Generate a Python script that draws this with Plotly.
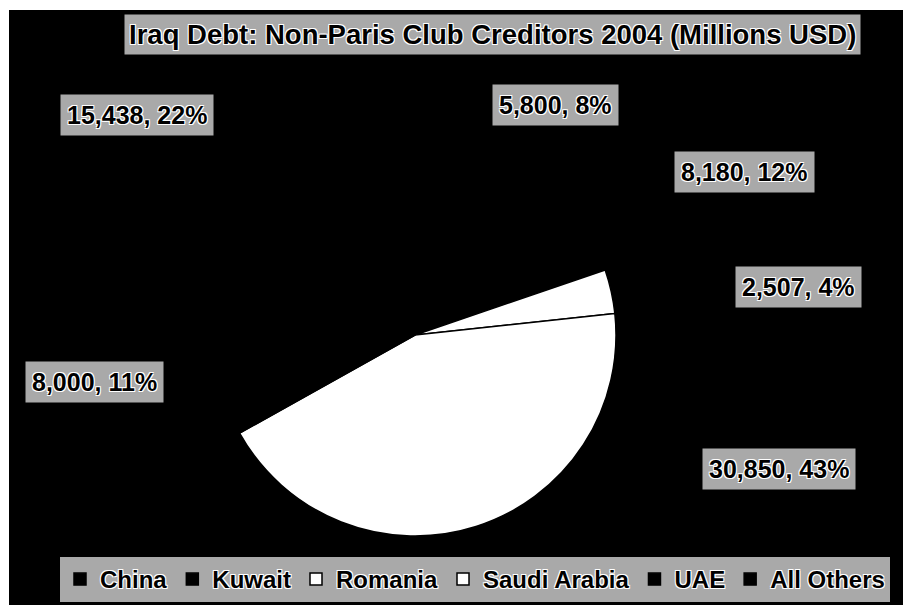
import plotly.graph_objects as go

# ---- data ----
creditors = ["China", "Kuwait", "Romania", "Saudi Arabia", "UAE", "All Others"]
debt_musd = [5800, 8180, 2507, 30850, 8000, 15438]
pct_labels = ["8%", "12%", "4%", "43%", "11%", "22%"]
slice_colors = ["#000000", "#000000", "#ffffff", "#ffffff", "#000000", "#000000"]
title_text = "Iraq Debt: Non-Paris Club Creditors 2004 (Millions USD)"

# page body has an 8px margin, so the figure is drawn 8px in from the top-left
OFF = 8
W, H = 911 - OFF, 605 - OFF
FONT = "Liberation Sans, Arial, sans-serif"
BOX = "#a9a9a9"
HALO = "1px 1px 0 #fff, -1px -1px 0 #fff, 1px -1px 0 #fff, -1px 1px 0 #fff"


def px(x):
    return (x - OFF) / W


def py(y):
    return 1 - (y - OFF) / H


cx, cy, r = 415, 335, 201

fig = go.Figure(go.Pie(
    labels=creditors,
    values=debt_musd,
    sort=False,
    direction="clockwise",
    rotation=0,
    textinfo="none",
    marker=dict(colors=slice_colors, line=dict(color="#000000", width=1.5)),
    domain=dict(x=[px(cx - r), px(cx + r)], y=[py(cy + r), py(cy - r)]),
    hoverinfo="label+value+percent",
))

# label box positions (centres, page pixels)
label_pos = {
    "China": (555, 105),
    "Kuwait": (744, 172),
    "Romania": (798, 287),
    "Saudi Arabia": (779, 469),
    "UAE": (94, 382),
    "All Others": (137, 115),
}

annotations = []
for name, val, pct in zip(creditors, debt_musd, pct_labels):
    x, y = label_pos[name]
    annotations.append(dict(
        x=px(x), y=py(y), xref="paper", yref="paper",
        text=f"{val:,}, {pct}", showarrow=False,
        font=dict(family=FONT, size=25, color="#000000", weight="bold", shadow=HALO),
        bgcolor=BOX, borderpad=6, xanchor="center", yanchor="middle",
    ))

annotations.append(dict(
    x=px(492), y=py(35), xref="paper", yref="paper",
    text=title_text, showarrow=False,
    font=dict(family=FONT, size=27.5, color="#000000", weight="bold", shadow=HALO),
    bgcolor=BOX, borderpad=4, xanchor="center", yanchor="middle",
))

shapes = [
    dict(type="rect", xref="paper", yref="paper", x0=0, x1=1, y0=py(10), y1=1,
         fillcolor="#ffffff", line=dict(width=0), layer="below"),
    dict(type="rect", xref="paper", yref="paper", x0=0, x1=px(9), y0=0, y1=1,
         fillcolor="#ffffff", line=dict(width=0), layer="below"),
]

fig.update_layout(
    width=W, height=H,
    margin=dict(l=0, r=0, t=0, b=0),
    paper_bgcolor="#000000",
    plot_bgcolor="#000000",
    annotations=annotations,
    shapes=shapes,
    showlegend=True,
    legend=dict(
        orientation="h",
        x=px(60), y=py(602), xanchor="left", yanchor="bottom",
        bgcolor=BOX,
        font=dict(family=FONT, size=24, color="#000000", weight="bold", shadow=HALO),
        itemwidth=30,
        traceorder="normal",
    ),
)

fig.write_html("out.html")
